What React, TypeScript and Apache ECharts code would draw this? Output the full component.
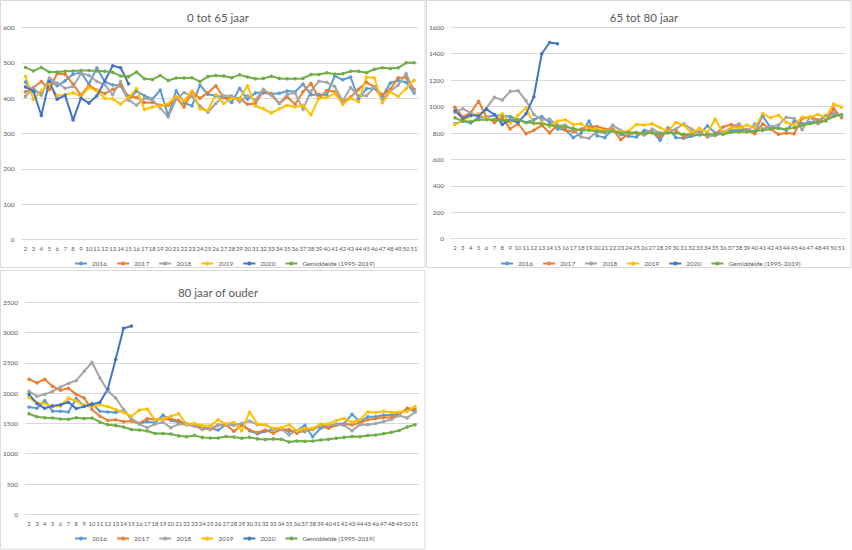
import React, { useEffect, useRef } from "react";
import * as echarts from "echarts";

const weeks = ["2","3","4","5","6","7","8","9","10","11","12","13","14","15","16","17","18","19","20","21","22","23","24","25","26","27","28","29","30","31","32","33","34","35","36","37","38","39","40","41","42","43","44","45","46","47","48","49","50","51"];

const seriesNames = ["2016", "2017", "2018", "2019", "2020", "Gemiddelde (1995-2019)"];
const colors = ["#5B9BD5", "#ED7D31", "#A5A5A5", "#FFC000", "#4472C4", "#70AD47"];

// Panel 1: 0 tot 65 jaar
const p1_2016 = [446,418,415,450,435,449,468,472,440,485,447,437,436,395,420,407,397,423,350,421,387,378,437,411,407,403,388,428,397,415,415,412,414,420,418,440,410,410,410,463,452,460,398,427,428,405,443,450,445,415];
const p1_2017 = [418,430,447,424,470,468,440,408,436,423,413,425,435,405,402,388,388,380,380,402,375,418,400,415,435,401,402,400,383,385,420,413,385,403,383,418,442,400,422,418,388,403,425,445,432,410,425,458,458,425];
const p1_2018 = [405,428,408,457,443,428,433,470,465,447,438,410,447,395,380,400,395,372,347,397,416,405,378,360,385,407,407,390,407,395,425,408,385,410,415,368,420,448,445,433,392,430,407,407,430,398,420,437,470,420];
const p1_2019 = [462,397,420,440,407,410,415,405,430,420,400,398,383,402,427,368,375,378,385,405,393,420,370,365,410,385,400,398,435,378,370,358,370,380,375,380,353,400,402,413,383,400,390,460,457,387,418,405,427,451];
const p1_2020 = [432,420,351,447,397,408,338,400,386,407,448,492,486,441];
const p1_avg = [487,477,487,474,474,476,477,478,478,477,476,473,463,461,474,455,453,464,450,457,457,458,447,461,464,463,458,466,460,455,456,462,456,455,455,456,467,467,472,468,469,476,476,472,482,486,484,486,500,500];

// Panel 2: 65 tot 80 jaar
const p2_2016 = [870,890,875,920,920,935,930,925,900,880,900,925,880,830,825,765,800,890,780,765,830,790,775,770,820,810,745,840,765,760,775,790,855,800,805,820,820,825,810,930,840,840,820,890,870,880,890,930,950,930];
const p2_2017 = [995,920,955,1040,920,880,915,830,870,795,820,860,800,860,820,810,830,850,850,830,830,750,790,800,785,810,770,820,820,770,800,810,770,790,845,865,850,820,795,870,830,790,800,795,910,920,900,890,985,915];
const p2_2018 = [955,985,950,930,990,1070,1050,1115,1120,1045,940,900,905,855,860,820,770,760,810,800,860,820,800,805,790,830,800,810,830,870,830,800,780,780,805,840,870,810,870,830,850,860,920,910,825,920,870,900,950,930];
const p2_2019 = [865,895,930,945,910,900,945,875,935,990,870,880,850,890,900,865,870,830,830,815,820,810,815,865,860,870,840,815,880,860,800,835,805,905,800,840,840,860,840,945,915,935,880,860,920,920,940,920,1020,995];
const p2_2020 = [968,910,935,930,980,940,865,900,880,945,1075,1400,1485,1475];
const p2_avg = [915,890,885,900,900,900,895,900,900,880,875,870,860,850,845,835,820,820,815,810,815,800,805,800,800,800,795,800,800,790,785,785,790,790,790,805,810,810,815,820,830,835,830,840,860,870,880,895,925,940];

// Panel 3: 80 jaar of ouder
const p3_2016 = [1770,1750,1880,1700,1700,1690,1910,1790,1830,1700,1690,1680,1720,1570,1500,1530,1510,1640,1550,1520,1500,1470,1430,1420,1390,1480,1480,1500,1380,1330,1370,1400,1410,1370,1380,1470,1280,1420,1450,1490,1500,1650,1530,1610,1610,1640,1640,1660,1740,1700];
const p3_2017 = [2230,2170,2230,2110,2050,2080,1980,1920,1730,1620,1550,1560,1530,1540,1500,1580,1560,1570,1570,1550,1480,1460,1430,1400,1470,1480,1370,1470,1390,1350,1390,1340,1400,1400,1340,1390,1400,1460,1420,1470,1490,1480,1510,1560,1580,1600,1600,1650,1750,1740];
const p3_2018 = [2030,1950,1980,2030,2100,2160,2210,2360,2510,2250,2040,1920,1730,1580,1490,1430,1490,1520,1430,1490,1480,1460,1400,1420,1480,1480,1470,1500,1540,1480,1480,1400,1410,1310,1380,1360,1410,1460,1470,1480,1470,1380,1480,1480,1500,1530,1570,1630,1590,1690];
const p3_2019 = [1930,1840,1830,1780,1790,1920,1870,1800,1780,1810,1780,1730,1680,1620,1720,1740,1560,1570,1620,1660,1490,1500,1460,1460,1560,1490,1520,1380,1690,1490,1480,1420,1430,1480,1380,1420,1420,1490,1490,1550,1580,1520,1560,1690,1680,1700,1680,1690,1700,1780];
const p3_2020 = [1980,1830,1750,1790,1810,1850,1745,1780,1815,1850,2070,2560,3070,3110];
const p3_avg = [1660,1610,1595,1590,1575,1570,1595,1580,1590,1520,1480,1465,1440,1400,1390,1375,1335,1335,1325,1295,1280,1300,1270,1260,1260,1285,1275,1255,1270,1245,1235,1245,1240,1195,1210,1205,1210,1225,1240,1255,1270,1285,1280,1300,1310,1330,1355,1385,1440,1480];

const panelTitles = ["0 tot 65 jaar", "65 tot 80 jaar", "80 jaar of ouder"];
const panelMax = [600, 1600, 3500];
const panelInterval = [100, 200, 500];
const panelData = [
  [p1_2016, p1_2017, p1_2018, p1_2019, p1_2020, p1_avg],
  [p2_2016, p2_2017, p2_2018, p2_2019, p2_2020, p2_avg],
  [p3_2016, p3_2017, p3_2018, p3_2019, p3_2020, p3_avg],
];

const FONT = "Lato";
const TXT = "#595959";
const GRIDC = "#d9d9d9";

export default function App() {
  const ref = useRef<HTMLDivElement>(null);
  useEffect(() => {
    document.body.style.margin = "0";
    if (!ref.current) return;
    const chart = echarts.init(ref.current, null, { renderer: "svg" });

    const grids = [
      { left: 21.5, top: 27.5, width: 396.5, height: 212 },
      { left: 451, top: 27.3, width: 394.5, height: 211.4 },
      { left: 25, top: 302.3, width: 394, height: 212 },
    ];
    const titleTops = [6, 6, 281];
    const titleCenters = [213, 639, 213];
    const legendTops = [260, 260, 535];
    const legendLefts = [74, 500, 74];

    const series: any[] = [];
    panelData.forEach((arrs, p) => {
      arrs.forEach((d, i) => {
        series.push({
          name: seriesNames[i],
          type: "line",
          xAxisIndex: p,
          yAxisIndex: p,
          data: d,
          symbol: "circle",
          symbolSize: 3.5,
          lineStyle: { width: 2, color: colors[i] },
          itemStyle: { color: colors[i] },
          emphasis: { disabled: true },
        });
      });
    });

    const option: any = {
      animation: false,
      textStyle: { fontFamily: FONT },
      graphic: [
        { type: "rect", shape: { x: 0.5, y: 0.5, width: 424.5, height: 267 }, style: { fill: "none", stroke: GRIDC, lineWidth: 1 } },
        { type: "rect", shape: { x: 426.5, y: 0.5, width: 424.5, height: 267 }, style: { fill: "none", stroke: GRIDC, lineWidth: 1 } },
        { type: "rect", shape: { x: 0.5, y: 270.5, width: 424.5, height: 278.5 }, style: { fill: "none", stroke: GRIDC, lineWidth: 1 } },
      ],
      title: panelTitles.map((t, p) => ({
        text: t,
        left: titleCenters[p],
        top: titleTops[p],
        textAlign: "center",
        textStyle: { fontFamily: FONT, fontSize: 11.5, fontWeight: "normal", color: TXT },
      })),
      legend: [0, 1, 2].map((p) => ({
        data: seriesNames,
        left: legendLefts[p],
        top: legendTops[p],
        orient: "horizontal",
        itemWidth: 12,
        itemHeight: 5,
        itemGap: 9,
        padding: 0,
        selectedMode: false,
        textStyle: { fontFamily: FONT, fontSize: 6.5, color: TXT },
      })),
      grid: grids,
      xAxis: grids.map((_, p) => ({
        type: "category",
        gridIndex: p,
        data: weeks,
        boundaryGap: true,
        axisTick: { show: false },
        axisLine: { lineStyle: { color: GRIDC, width: 1 } },
        axisLabel: { interval: 0, fontSize: 6, color: TXT, fontFamily: FONT, margin: 6 },
      })),
      yAxis: grids.map((_, p) => ({
        type: "value",
        gridIndex: p,
        min: 0,
        max: panelMax[p],
        interval: panelInterval[p],
        axisLine: { show: false },
        axisTick: { show: false },
        splitLine: { lineStyle: { color: GRIDC, width: 1 } },
        axisLabel: { fontSize: 6.5, color: TXT, fontFamily: FONT, margin: 7, formatter: (v: number) => String(v) },
      })),
      series,
    };
    chart.setOption(option);
    return () => chart.dispose();
  }, []);
  return <div ref={ref} style={{ width: 852, height: 550, background: "#fff" }} />;
}
